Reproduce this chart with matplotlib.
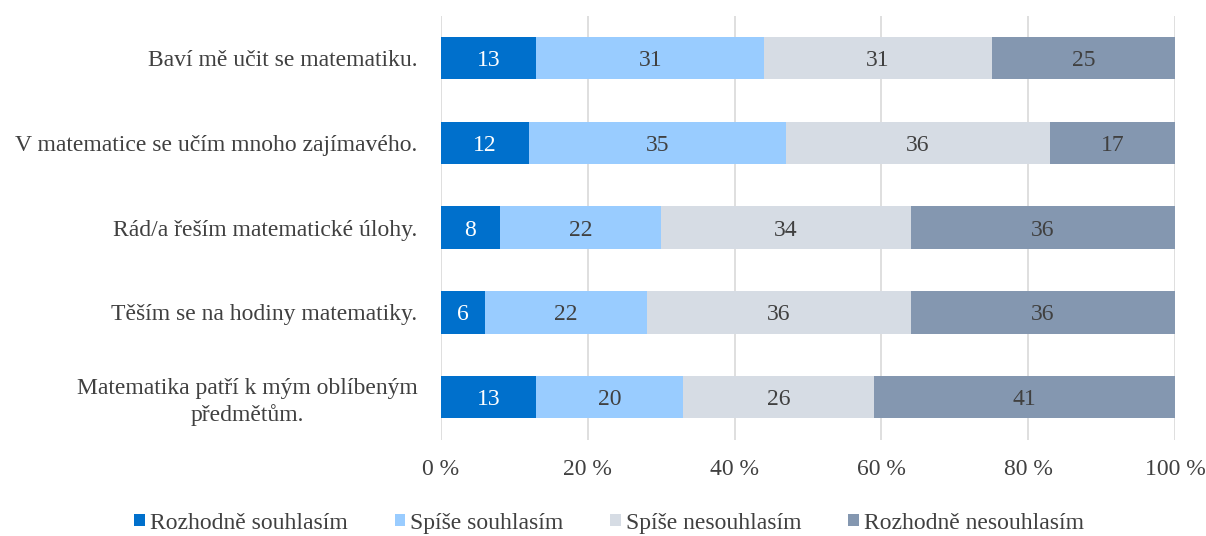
import matplotlib
matplotlib.use('Agg')
import matplotlib.pyplot as plt
import numpy as np

plt.rcParams['font.family'] = ['Liberation Serif', 'DejaVu Serif']

# Statements (top to bottom) and shares in percent
statements = [
    "Baví mě učit se matematiku.",
    "V matematice se učím mnoho zajímavého.",
    "Rád/a řeším matematické úlohy.",
    "Těším se na hodiny matematiky.",
    "Matematika patří k mým oblíbeným\npředmětům.",
]
series_names = ["Rozhodně souhlasím", "Spíše souhlasím", "Spíše nesouhlasím", "Rozhodně nesouhlasím"]
rozhodne_souhlasim = [13, 12, 8, 6, 13]
spise_souhlasim = [31, 35, 22, 22, 20]
spise_nesouhlasim = [31, 36, 34, 36, 26]
rozhodne_nesouhlasim = [25, 17, 36, 36, 41]
x_ticks = [0, 20, 40, 60, 80, 100]
x_tick_labels = ["0 %", "20 %", "40 %", "60 %", "80 %", "100 %"]

colors = ['#0070CC', '#99CCFF', '#D6DCE4', '#8497B0']
label_colors = ['white', '#404040', '#404040', '#404040']
text_color = '#404040'
fs = 17

fig = plt.figure(figsize=(12.06, 5.36), dpi=100)
ax = fig.add_axes([0.3657, 0.180, 0.6086, 0.791])

y = np.arange(len(statements))
left = np.zeros(len(statements))
all_series = [rozhodne_souhlasim, spise_souhlasim, spise_nesouhlasim, rozhodne_nesouhlasim]
for vals, name, col, lcol in zip(all_series, series_names, colors, label_colors):
    vals = np.array(vals, dtype=float)
    ax.barh(y, vals, left=left, height=0.5, color=col, label=name, zorder=3)
    for yi, l, v in zip(y, left, vals):
        ax.text(l + v / 2, yi + 0.03, f"{int(v)}", ha='center', va='center',
                fontsize=fs, color=lcol, zorder=4)
    left += vals

ax.set_xlim(0, 100)
ax.set_ylim(len(statements) - 0.5, -0.5)
ax.set_yticks(y)
ax.set_yticklabels(statements, fontsize=fs, color=text_color,
                   multialignment='center', linespacing=1.3)
ax.set_xticks(x_ticks)
ax.set_xticklabels(x_tick_labels, fontsize=fs, color=text_color)
ax.tick_params(axis='both', length=0)
ax.tick_params(axis='x', pad=14)
ax.tick_params(axis='y', pad=17)
ax.grid(axis='x', color='#D9D9D9', linewidth=1.2, zorder=0)
for s in ax.spines.values():
    s.set_visible(False)

handles, labels = ax.get_legend_handles_labels()
fig.legend(handles, labels, loc='lower center', bbox_to_anchor=(0.505, -0.035), ncol=4,
           frameon=False, fontsize=fs, handlelength=0.45, handleheight=0.45,
           handletextpad=0.2, columnspacing=2.0, labelcolor=text_color)

fig.savefig('out.png', dpi=100)
